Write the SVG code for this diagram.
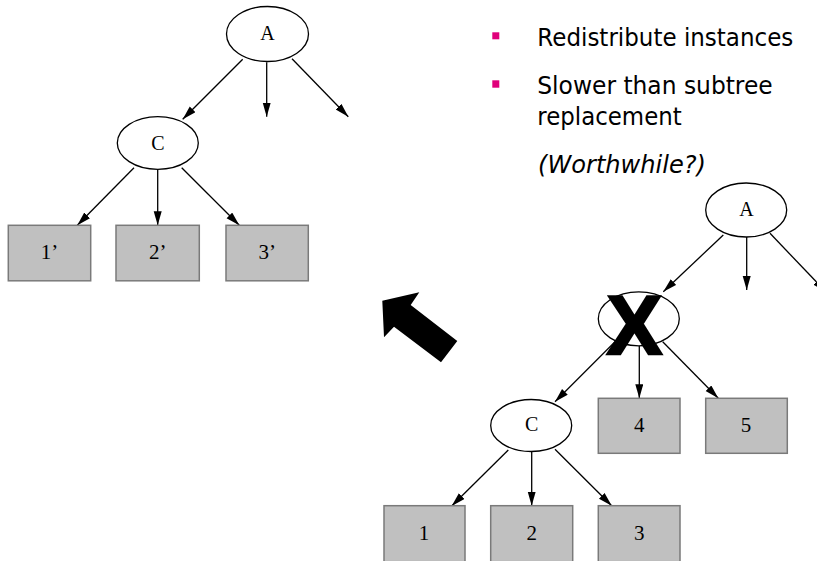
<svg xmlns="http://www.w3.org/2000/svg" width="817" height="561" viewBox="0 0 817 561">
<style>
.nd{fill:#fff;stroke:#000;stroke-width:1.3}
.bx{fill:#c0c0c0;stroke:#7a7a7a;stroke-width:1.5}
.lb{font-family:"Liberation Serif","Times New Roman",serif;font-size:20px;fill:#000;text-anchor:middle}
.dg{font-family:"Liberation Serif","Times New Roman",serif;font-size:21px;fill:#000;text-anchor:middle}
.cn line{stroke:#000;stroke-width:1.3;marker-end:url(#ah)}
.tx{font-family:"DejaVu Sans",Verdana,sans-serif;font-size:24px;fill:#000}
.bu{fill:#e0007b}
</style>
<defs>
<marker id="ah" markerUnits="userSpaceOnUse" markerWidth="15" markerHeight="9" refX="14" refY="4" orient="auto">
<path d="M0,0 L14,4 L0,8 z" fill="#000"/>
</marker>
</defs>

<g id="connectors" class="cn">
<line x1="242.7" y1="59.3" x2="182.7" y2="119.3"/>
<line x1="266.7" y1="62.3" x2="266.7" y2="116.7"/>
<line x1="292" y1="58.7" x2="348.3" y2="116.7"/>
<line x1="134" y1="167.7" x2="77.3" y2="225.3"/>
<line x1="157.7" y1="169.5" x2="157.7" y2="225.3"/>
<line x1="181.7" y1="167.7" x2="239.3" y2="225.3"/>
<line x1="723.3" y1="235" x2="663.3" y2="291.7"/>
<line x1="746.7" y1="237" x2="746.7" y2="290"/>
<line x1="770" y1="233.3" x2="826" y2="292"/>
<line x1="615" y1="341.7" x2="555" y2="401.7"/>
<line x1="639.3" y1="346" x2="639.3" y2="398.3"/>
<line x1="662.7" y1="341.7" x2="718.3" y2="398.3"/>
<line x1="508.3" y1="450" x2="451.7" y2="506"/>
<line x1="531.7" y1="452" x2="531.7" y2="505.7"/>
<line x1="555" y1="449.3" x2="611.7" y2="505.7"/>
</g>

<g id="L-A"><ellipse class="nd" cx="267.5" cy="34" rx="41" ry="27.5"/><text class="lb" x="267.5" y="39.5">A</text></g>
<g id="L-C"><ellipse class="nd" cx="157.8" cy="143" rx="40.5" ry="26.3"/><text class="lb" x="157.8" y="150">C</text></g>
<g id="L-1"><rect class="bx" x="8.3" y="225.3" width="82.4" height="55.5"/><text class="dg" x="49.5" y="259">1’</text></g>
<g id="L-2"><rect class="bx" x="116" y="225.3" width="83.3" height="55.5"/><text class="dg" x="157.7" y="259">2’</text></g>
<g id="L-3"><rect class="bx" x="226" y="225.3" width="82.3" height="55.5"/><text class="dg" x="267.2" y="259">3’</text></g>

<g id="R-A"><ellipse class="nd" cx="746.2" cy="210" rx="40.5" ry="27"/><text class="lb" x="746.5" y="216">A</text></g>
<g id="R-B"><ellipse class="nd" cx="638.8" cy="318.8" rx="40.5" ry="27"/><text x="634.5" y="354" font-family="'Liberation Sans',Arial,sans-serif" font-weight="bold" font-size="83" text-anchor="middle" fill="#000" stroke="#000" stroke-width="2.5">X</text></g>
<g id="R-C"><ellipse class="nd" cx="531.2" cy="425.5" rx="40.5" ry="26"/><text class="lb" x="531.7" y="430.7">C</text></g>
<g id="R-4"><rect class="bx" x="598.3" y="398.3" width="81.7" height="55"/><text class="dg" x="639.3" y="432">4</text></g>
<g id="R-5"><rect class="bx" x="705.7" y="398.3" width="81.6" height="55"/><text class="dg" x="746" y="432">5</text></g>
<g id="R-1"><rect class="bx" x="384" y="505.7" width="81" height="56"/><text class="dg" x="424" y="539.5">1</text></g>
<g id="R-2"><rect class="bx" x="490.7" y="505.7" width="82" height="56"/><text class="dg" x="531.7" y="539.5">2</text></g>
<g id="R-3"><rect class="bx" x="598.3" y="505.7" width="81.7" height="56"/><text class="dg" x="639.3" y="539.5">3</text></g>

<g id="big-arrow"><polygon points="382.3,300.7 419.3,292.3 410.7,305 457.3,341 441,362.3 394,326.7 384,337.3" fill="#000"/></g>

<g id="bullets">
<rect class="bu" x="492.3" y="32.3" width="7" height="7"/>
<text class="tx" x="537.3" y="46" textLength="256" lengthAdjust="spacingAndGlyphs">Redistribute instances</text>
<rect class="bu" x="492.3" y="80.3" width="7" height="7.4"/>
<text class="tx" x="537.3" y="94" textLength="235.4" lengthAdjust="spacingAndGlyphs">Slower than subtree</text>
<text class="tx" x="537.3" y="124.5" textLength="144.4" lengthAdjust="spacingAndGlyphs">replacement</text>
<text class="tx" x="538" y="173" font-style="italic" textLength="168" lengthAdjust="spacingAndGlyphs">(Worthwhile?)</text>
</g>
</svg>
